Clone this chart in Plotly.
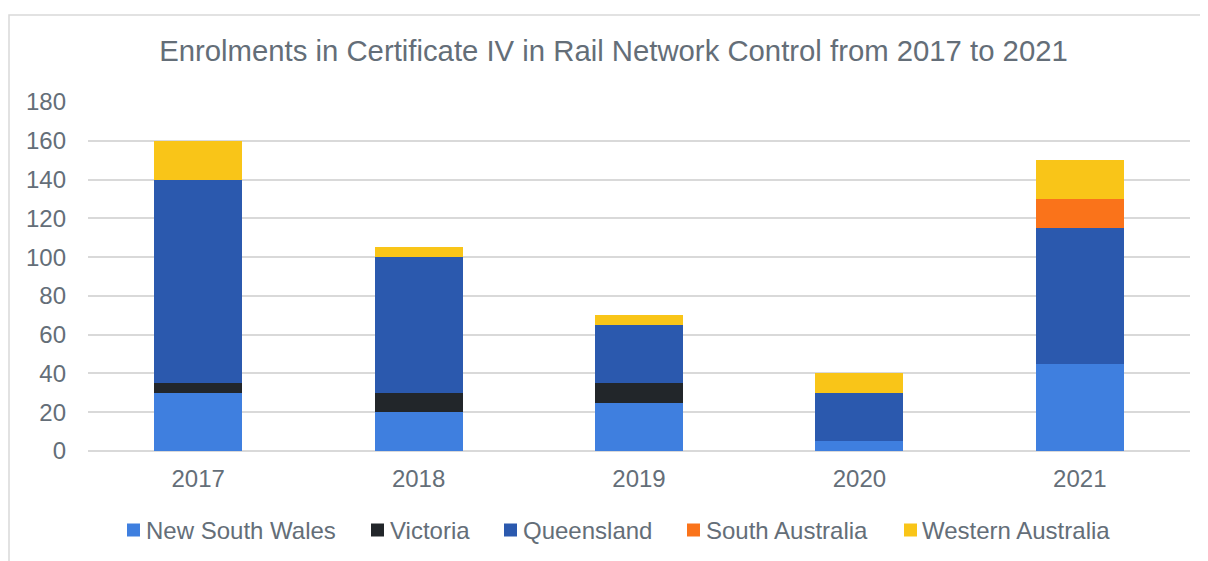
import plotly.graph_objects as go

years = ["2017", "2018", "2019", "2020", "2021"]
nsw = [30, 20, 25, 5, 45]
vic = [5, 10, 10, 0, 0]
qld = [105, 70, 30, 25, 70]
sa = [0, 0, 0, 0, 15]
wa = [20, 5, 5, 10, 20]

names = ["New South Wales", "Victoria", "Queensland", "South Australia", "Western Australia"]
values = [nsw, vic, qld, sa, wa]
colors = ["#3F7FDF", "#22262A", "#2B59AE", "#FA731A", "#F9C518"]

# legend layout (screen pixels): square left edge and text left edge
legend_sq_x = [127, 371, 504, 687, 904]
legend_tx_x = [144, 388, 521, 704, 920]

fig = go.Figure()
for name, vals, col in zip(names, values, colors):
    fig.add_trace(go.Bar(x=years, y=vals, name=name, marker_color=col,
                         marker_line_width=0, showlegend=False))

# page body has an 8px margin, so the figure is offset by 8px
OFF = 8
W, H = 1208 - OFF, 561 - OFF
l, r, t = 88 - OFF, 18, 102 - OFF
b = H - (451 - OFF)
pw, ph = W - l - r, H - t - b


def px_x(sx):
    return (sx - OFF - l) / pw


def px_y(sy):
    return (H - b - (sy - OFF)) / ph


shapes = [dict(type="rect", xref="paper", yref="paper", x0=px_x(9), x1=1.2,
               y0=-1, y1=px_y(15), line=dict(color="#D9D9D9", width=1.5),
               fillcolor="rgba(0,0,0,0)", layer="below")]
annotations = []
LY = 530
for name, col, sx, tx in zip(names, colors, legend_sq_x, legend_tx_x):
    shapes.append(dict(type="rect", xref="paper", yref="paper",
                       x0=px_x(sx), x1=px_x(sx + 13), y0=px_y(LY + 6.5), y1=px_y(LY - 6.5),
                       line=dict(width=0), fillcolor=col))
    annotations.append(dict(text=name, xref="paper", yref="paper", x=px_x(tx), y=px_y(LY),
                            xanchor="left", yanchor="middle", showarrow=False,
                            font=dict(size=24, color="#646E78")))

fig.update_layout(
    width=W, height=H,
    barmode="stack", bargap=0.6,
    margin=dict(l=l, r=r, t=t, b=b),
    paper_bgcolor="white", plot_bgcolor="white",
    showlegend=False,
    font=dict(family="Liberation Sans, Arial", color="#646E78", size=24),
    title=dict(text="Enrolments in Certificate IV in Rail Network Control from 2017 to 2021",
               x=(613.5 - OFF) / W, xanchor="center", y=1 - (50.5 - OFF) / H, yanchor="middle",
               font=dict(size=29.3, color="#646E78")),
    xaxis=dict(showgrid=False, ticks="", showline=False, tickfont=dict(size=24),
               ticklabelstandoff=11),
    yaxis=dict(range=[0, 180], dtick=20, showgrid=True, gridcolor="#D9D9D9",
               gridwidth=1.5, zeroline=True, zerolinecolor="#D9D9D9",
               zerolinewidth=1.5, ticks="", tickfont=dict(size=24),
               ticklabelstandoff=21),
    shapes=shapes,
    annotations=annotations,
)
fig.write_html("out.html")
